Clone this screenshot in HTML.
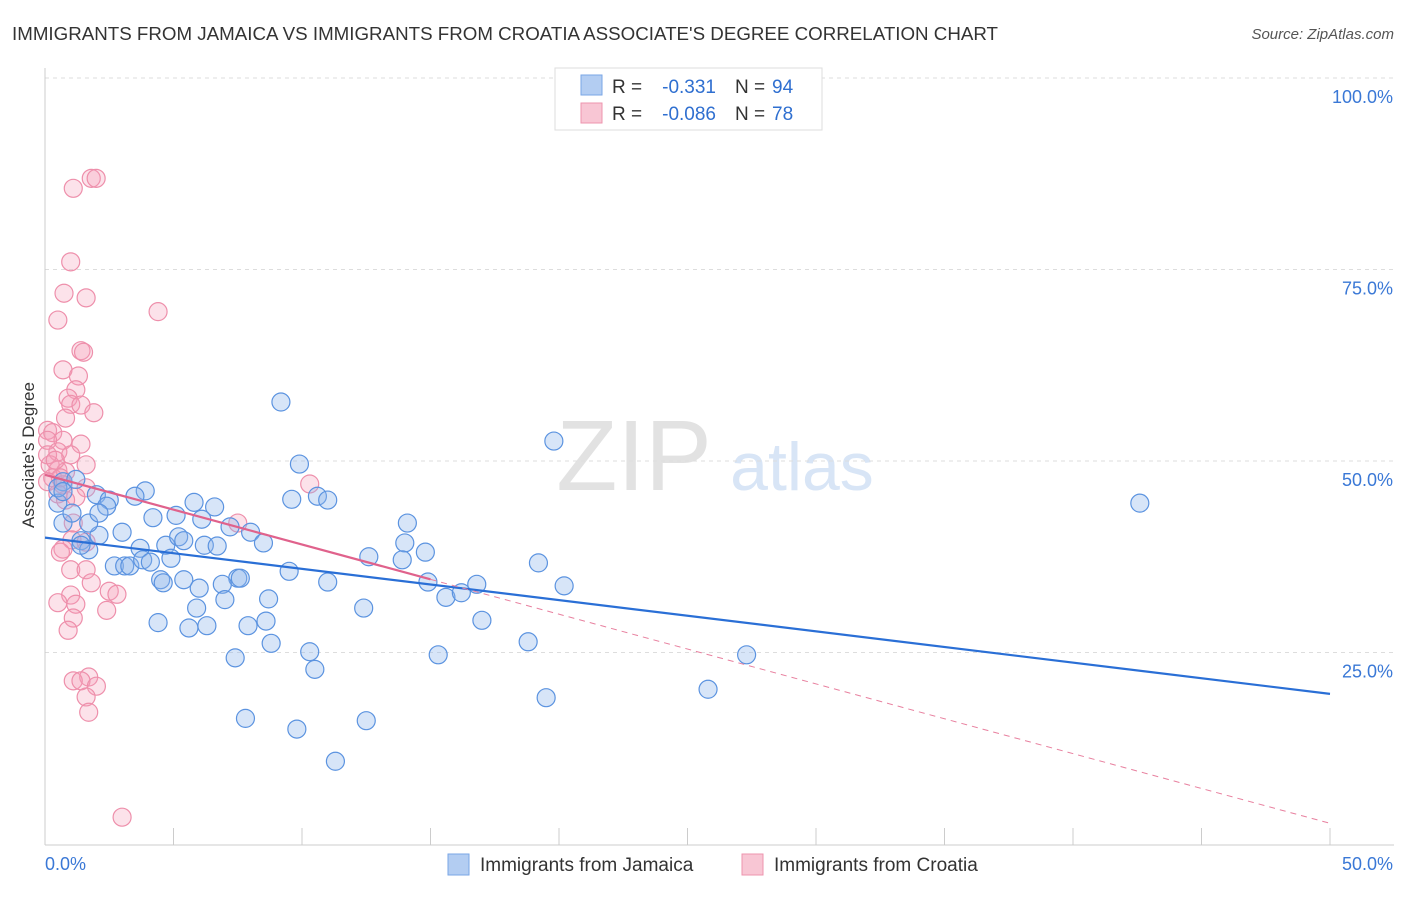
<!DOCTYPE html>
<html><head><meta charset="utf-8"><style>
body{margin:0;background:#fff;font-family:"Liberation Sans",sans-serif}
svg text{font-family:"Liberation Sans",sans-serif}
</style></head><body>
<svg id="c" width="1406" height="892">
<text x="12" y="40" font-size="18" fill="#333" textLength="986" lengthAdjust="spacingAndGlyphs">IMMIGRANTS FROM JAMAICA VS IMMIGRANTS FROM CROATIA ASSOCIATE'S DEGREE CORRELATION CHART</text>
<text x="1394" y="39" font-size="15" fill="#555" font-style="italic" text-anchor="end">Source: ZipAtlas.com</text>
<text x="34" y="455" font-size="17" fill="#333" text-anchor="middle" transform="rotate(-90 34 455)">Associate's Degree</text>
<g>
<text x="634" y="490" font-size="100" fill="#e2e2e2" font-family="Liberation Serif,serif" text-anchor="middle">ZIP</text>
<text x="802" y="490" font-size="68" fill="#d8e5f6" text-anchor="middle">atlas</text>
</g>
<g id="grid"></g><g id="axes"></g><g id="marks"></g>
<g>
<rect x="555" y="68" width="267" height="62" fill="#fff" stroke="#ddd"/>
<rect x="581" y="75" width="21" height="20" fill="#b3cdf2" stroke="#7aa6e6"/>
<rect x="581" y="103" width="21" height="20" fill="#f8c6d4" stroke="#ee94ae"/>
<text x="612" y="93" font-size="19" fill="#333">R =</text>
<text x="716" y="93" font-size="19" fill="#2f6fd0" text-anchor="end">-0.331</text>
<text x="735" y="93" font-size="19" fill="#333">N =</text>
<text x="772" y="93" font-size="19" fill="#2f6fd0">94</text>
<text x="612" y="120" font-size="19" fill="#333">R =</text>
<text x="716" y="120" font-size="19" fill="#2f6fd0" text-anchor="end">-0.086</text>
<text x="735" y="120" font-size="19" fill="#333">N =</text>
<text x="772" y="120" font-size="19" fill="#2f6fd0">78</text>
</g>
<g>
<rect x="448" y="854" width="21" height="21" fill="#b3cdf2" stroke="#7aa6e6"/>
<text x="480" y="871" font-size="19" fill="#333">Immigrants from Jamaica</text>
<rect x="742" y="854" width="21" height="21" fill="#f8c6d4" stroke="#ee94ae"/>
<text x="774" y="871" font-size="19" fill="#333">Immigrants from Croatia</text>
</g>
</svg>
<script>
const blueX=[9.18,19.8,42.6,9.9,3.9,3.5,2.0,2.5,2.4,0.5,0.7,1.2,5.8,6.6,9.6,10.6,11.0,4.2,5.1,6.1,7.2,8.0,8.5,3.0,2.1,1.7,0.7,1.05,1.4,1.7,3.7,4.7,5.2,5.4,6.2,6.7,14.1,14.0,14.8,12.6,13.9,19.2,2.7,3.1,3.3,3.8,4.1,4.9,9.5,7.5,7.6,6.9,5.4,4.5,4.6,6.0,11.0,14.9,16.8,20.2,15.6,16.2,7.0,8.7,5.9,12.4,17.0,4.4,5.6,6.3,7.9,8.6,8.8,18.8,10.3,15.3,27.3,7.4,10.5,25.8,19.5,7.8,12.5,9.8,11.3,0.5,0.7,1.4,2.1];
const blueY=[57.7,52.6,44.5,49.6,46.1,45.4,45.6,44.9,44.1,44.5,47.3,47.6,44.6,44.0,45.0,45.4,44.9,42.6,42.9,42.4,41.4,40.7,39.3,40.7,40.3,41.9,41.9,43.2,39.6,38.4,38.6,39.0,40.1,39.6,39.0,38.9,41.9,39.3,38.1,37.5,37.1,36.7,36.3,36.3,36.3,37.1,36.8,37.3,35.6,34.7,34.7,33.9,34.5,34.5,34.1,33.4,34.2,34.2,33.9,33.7,32.2,32.8,31.9,32.0,30.8,30.8,29.2,28.9,28.2,28.5,28.5,29.1,26.2,26.4,25.1,24.7,24.7,24.3,22.8,20.2,19.1,16.4,16.1,15.0,10.8,46.5,46.0,39.0,43.2];
const pinkX=[1.8,1.99,1.1,1.0,0.74,1.6,0.5,4.4,1.4,1.5,0.7,1.3,1.2,0.9,1.0,1.4,1.9,0.8,0.1,0.3,0.7,1.4,0.1,0.5,1.0,1.6,0.2,0.5,0.8,0.3,0.7,0.1,0.5,1.6,1.2,10.3,7.5,1.1,1.05,1.6,0.7,0.6,1.0,1.6,1.8,2.5,2.8,1.0,0.5,1.2,2.4,1.1,0.9,1.7,1.1,1.4,2.0,1.6,1.7,3.0,0.1,0.4,0.6,0.8];
const pinkY=[86.9,86.9,85.6,76.0,71.9,71.3,68.4,69.5,64.4,64.2,61.9,61.1,59.3,58.2,57.4,57.3,56.3,55.6,54.0,53.7,52.7,52.2,52.7,51.2,50.8,49.5,49.5,48.8,48.6,47.8,46.9,47.3,45.7,46.5,45.3,47.0,41.9,41.9,39.7,39.4,38.5,38.1,35.8,35.8,34.1,33.0,32.6,32.5,31.5,31.3,30.5,29.5,27.9,21.8,21.3,21.3,20.6,19.2,17.2,3.5,50.8,50.1,47.8,44.9];
const xTicks=[0,5,10,15,20,25,30,35,40,45,50];
const yTicks=[25,50,75,100];
const blueFit=[40.0,19.6];
const pinkFit=[48.2,2.7];
const pinkSolidEnd=15;
const X=v=>45+v/50*1285, Y=v=>844-v/100*766;
const NS="http://www.w3.org/2000/svg";
function mk(t,a,p){const e=document.createElementNS(NS,t);for(const k in a)e.setAttribute(k,a[k]);p.appendChild(e);return e;}
const grid=document.getElementById('grid'),axes=document.getElementById('axes'),marks=document.getElementById('marks');
yTicks.forEach(t=>{
 const l=mk('line',{x1:45,x2:1394,y1:Y(t),y2:Y(t),stroke:'#ddd','stroke-dasharray':'4,4'},grid);
 
 
 const tx=mk('text',{x:1393,y:Y(t)+25,'font-size':18,fill:'#3a78d6','text-anchor':'end'},axes);
 tx.textContent=t.toFixed(1)+'%';
 
 
});
const ax=mk('line',{x1:45,x2:1394,y1:845,y2:845,stroke:'#ccc'},axes);


const ay=mk('line',{x1:45,x2:45,y1:68,y2:845,stroke:'#ccc'},axes);


xTicks.forEach(t=>{
 const l=mk('line',{x1:X(t),x2:X(t),y1:828,y2:845,stroke:'#ccc'},axes);
 
 
});
[[0,'start',45],[50,'end',1393]].forEach(([v,a,x])=>{
 const tx=mk('text',{x:x,y:870,'font-size':18,fill:'#3a78d6','text-anchor':a},axes);
 tx.textContent=v.toFixed(1)+'%';
 
 
});
pinkX.forEach((x,i)=>{
 const c=mk('circle',{cx:X(x),cy:Y(pinkY[i]),r:9,fill:'rgba(245,160,185,0.3)',stroke:'#ee8fab','stroke-width':1.2},marks);
 
 
});
blueX.forEach((x,i)=>{
 const c=mk('circle',{cx:X(x),cy:Y(blueY[i]),r:9,fill:'rgba(140,180,235,0.35)',stroke:'#5b93e0','stroke-width':1.2},marks);
 
 
});
const bl=mk('line',{x1:X(0),y1:Y(blueFit[0]),x2:X(50),y2:Y(blueFit[1]),stroke:'#2a6fd6','stroke-width':2.2},marks);


const py=x=>pinkFit[0]+(pinkFit[1]-pinkFit[0])*x/50;
const pl=mk('line',{x1:X(0),y1:Y(py(0)),x2:X(pinkSolidEnd),y2:Y(py(pinkSolidEnd)),stroke:'#e0628c','stroke-width':2.2},marks);


const pd=mk('line',{x1:X(pinkSolidEnd),y1:Y(py(pinkSolidEnd)),x2:X(50),y2:Y(py(50)),stroke:'#e8809f','stroke-width':1,'stroke-dasharray':'6,5'},marks);


</script>
</body></html>
